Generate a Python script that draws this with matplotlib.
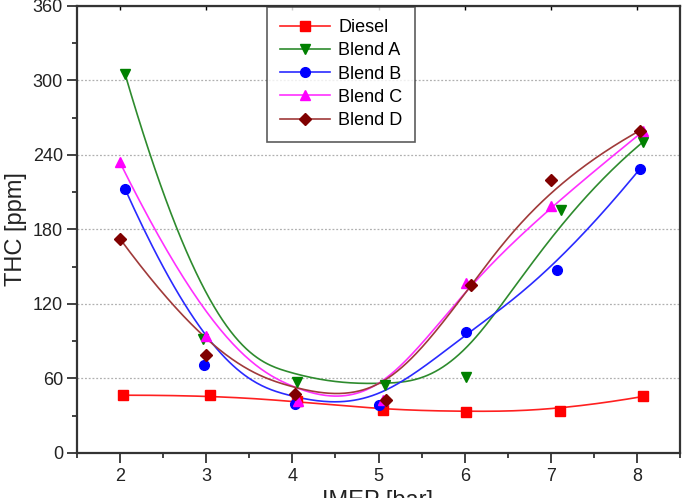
import numpy as np
import matplotlib
matplotlib.use("Agg")
import matplotlib.pyplot as plt
from matplotlib.ticker import MultipleLocator

plt.rcParams['font.family'] = ['Liberation Sans', 'DejaVu Sans']

# IMEP [bar] and THC [ppm]
x_diesel = [2.04, 3.04, 4.05, 5.05, 6.02, 7.10, 8.07]
thc_diesel = [46.5, 46.5, 41.5, 35.0, 33.0, 34.0, 45.5]

x_a = [2.06, 2.96, 4.05, 5.07, 6.02, 7.12, 8.07]
thc_a = [305, 91.5, 57.5, 54.5, 61.5, 195.5, 250.5]

x_b = [2.06, 2.98, 4.03, 5.01, 6.02, 7.07, 8.03]
thc_b = [212.5, 70.5, 39.5, 38.5, 97.5, 147.5, 228.5]

x_c = [2.00, 3.00, 4.07, 5.05, 6.02, 7.00, 8.07]
thc_c = [234, 94, 41.5, 43, 136.5, 199, 259]

x_d = [2.00, 3.00, 4.03, 5.09, 6.07, 7.00, 8.03]
thc_d = [172.5, 78.5, 47.5, 42.5, 135.5, 219.5, 259.5]

series = [
    ("Diesel", x_diesel, thc_diesel, 's', '#ff0000', '#ff2020'),
    ("Blend A", x_a, thc_a, 'v', '#008000', '#2e8b2e'),
    ("Blend B", x_b, thc_b, 'o', '#0000ff', '#2a2aff'),
    ("Blend C", x_c, thc_c, '^', '#ff00ff', '#ff30ff'),
    ("Blend D", x_d, thc_d, 'D', '#800000', '#a03a3a'),
]


def bspline(xs, ys, k=3, num=300):
    # clamped uniform B-spline using the data points as control points
    P = np.column_stack([xs, ys])
    n = len(P)
    knots = np.concatenate([np.zeros(k), np.linspace(0, 1, n - k + 1), np.ones(k)])
    t = np.linspace(0, 1 - 1e-9, num)
    B = np.zeros((num, len(knots) - 1))
    for i in range(len(knots) - 1):
        B[:, i] = (t >= knots[i]) & (t < knots[i + 1])
    for d in range(1, k + 1):
        Bn = np.zeros((num, len(knots) - 1 - d))
        for i in range(len(knots) - 1 - d):
            a = np.zeros(num)
            b = np.zeros(num)
            if knots[i + d] > knots[i]:
                a = (t - knots[i]) / (knots[i + d] - knots[i]) * B[:, i]
            if knots[i + d + 1] > knots[i + 1]:
                b = (knots[i + d + 1] - t) / (knots[i + d + 1] - knots[i + 1]) * B[:, i + 1]
            Bn[:, i] = a + b
        B = Bn
    C = B @ P
    return C[:, 0], C[:, 1]


fig = plt.figure(figsize=(6.92, 4.98), dpi=100)
ax = fig.add_axes([0.111, 0.0904, 0.872, 0.898])

for name, xs, ys, mk, mcol, lcol in series:
    ms = 7 if mk != 'D' else 6.5
    cx, cy = bspline(xs, ys)
    ax.plot(cx, cy, color=lcol, lw=1.2, zorder=2)
    ax.plot(xs, ys, linestyle='none', marker=mk, color=mcol,
            markersize=ms, zorder=3)
    # legend proxy
    ax.plot([], [], color=lcol, lw=1.2, marker=mk, markerfacecolor=mcol,
            markeredgecolor=mcol, markersize=ms, label=name)

ax.set_xlim(1.5, 8.5)
ax.set_ylim(0, 360)
ax.xaxis.set_major_locator(MultipleLocator(1))
ax.xaxis.set_minor_locator(MultipleLocator(0.5))
ax.yaxis.set_major_locator(MultipleLocator(60))
ax.yaxis.set_minor_locator(MultipleLocator(30))

for yv in range(60, 360, 60):
    ax.axhline(yv, color='#b0b0b0', lw=0.9, ls=(0, (1.5, 1.5)), zorder=1)

ax.tick_params(which='both', direction='out', top=False, right=False,
               labelsize=13, width=1.3, colors='#333333', labelcolor='#222222')
ax.tick_params(which='major', length=7)
ax.tick_params(which='minor', length=3.8)
ax.tick_params(axis='x', pad=4)
ax.tick_params(axis='y', pad=3)
ax.secondary_xaxis('top').tick_params(which='both', direction='in', length=3,
                                      labeltop=False, width=1.0)
for s in ax.spines.values():
    s.set_linewidth(1.6)
    s.set_color('#333333')

ax.set_xlabel("IMEP [bar]", fontsize=17, color='#222222')
ax.set_ylabel("THC [ppm]", fontsize=17, color='#222222')
ax.xaxis.set_label_coords(0.499, -0.083)
ax.yaxis.set_label_coords(-0.083, 0.5)

leg = ax.legend(loc='upper left', bbox_to_anchor=(0.315, 0.998), fontsize=13,
                frameon=True, fancybox=False, edgecolor='#333333',
                handlelength=2.8, handletextpad=0.45, labelspacing=0.34,
                borderpad=0.7, borderaxespad=0)
leg.get_frame().set_linewidth(1.2)

fig.savefig("out.png", dpi=100)
